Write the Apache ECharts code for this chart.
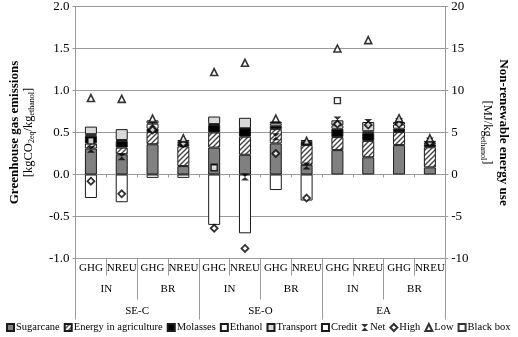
<!DOCTYPE html>
<html>
<head>
<meta charset="utf-8">
<script src="https://cdn.jsdelivr.net/npm/echarts@6/dist/echarts.min.js"></script>
<style>
  html, body { margin: 0; padding: 0; background: #fff; }
  #chart { width: 518px; height: 337px; }
</style>
</head>
<body>
<div id="chart"></div>
<script>
// category rows (bottom axis, three levels)
const indicators = ["GHG", "NREU", "GHG", "NREU", "GHG", "NREU", "GHG", "NREU", "GHG", "NREU", "GHG", "NREU"];
const origins = ["IN", "BR", "IN", "BR", "IN", "BR"];
const regions = ["SE-C", "SE-O", "EA"];

// GHG columns in kgCO2eq/kg ethanol, NREU columns in MJ/kg ethanol
const sugarcane = [0.31, 2.4, 0.36, 1.0, 0.32, 2.35, 0.37, 1.15, 0.29, 2.05, 0.35, 0.85];
const energyAgri = [0.06, 0.8, 0.145, 2.35, 0.18, 2.15, 0.17, 2.35, 0.155, 1.95, 0.155, 2.4];
const molasses = [0.09, 0.8, 0.04, 0.3, 0.09, 1.0, 0.04, 0.25, 0.1, 0.95, 0.04, 0.35];
const ethanol = [0.02, 0.1, 0.06, 0.25, 0.01, 0.0, 0.03, 0.2, 0.04, 0.2, 0.05, 0.2];
const transport = [0.09, 1.3, 0.04, 0.2, 0.09, 1.25, 0.02, 0.15, 0.06, 1.1, 0.03, 0.2];
const credit = [-0.28, -3.3, -0.04, -0.4, -0.6, -7.0, -0.185, -3.1, null, null, null, null];

const net = [0.3, 2.1, 0.6, 3.7, 0.09, -0.3, 0.45, 1.0, 0.65, 6.2, 0.63, 4.0];
const high = [-0.08, -2.3, 0.53, 3.7, -0.64, -8.8, 0.25, -2.8, 0.6, 5.9, 0.6, 3.8];
const low = [0.91, 9.0, 0.665, 4.3, 1.22, 13.3, 0.665, 4.0, 1.5, 16.0, 0.67, 4.3];
const blackBox = [0.4, null, null, null, 0.08, null, null, null, 0.88, null, null, null];

const font = "Liberation Serif";
const gridGray = "#9a9a9a";

// diagonal hatch for "Energy in agriculture"
const hatch = document.createElement("canvas");
hatch.width = 5;
hatch.height = 5;
const hc = hatch.getContext("2d");
hc.fillStyle = "#fff";
hc.fillRect(0, 0, 5, 5);
hc.strokeStyle = "#444";
hc.lineWidth = 1.4;
hc.beginPath();
hc.moveTo(-1, 6); hc.lineTo(6, -1);
hc.moveTo(-1, 1); hc.lineTo(1, -1);
hc.moveTo(4, 6); hc.lineTo(6, 4);
hc.stroke();

// even columns are GHG (left axis), odd ones NREU (right axis)
function pick(values, side) {
  return values.map((v, i) => (i % 2 === side && v != null ? v : "-"));
}

function bars(name, values, color) {
  return [0, 1].map((side) => ({
    name: name,
    type: "bar",
    stack: side === 0 ? "ghg" : "nreu",
    yAxisIndex: side,
    barWidth: 12,
    barGap: "-100%",
    data: pick(values, side),
    itemStyle: { color: color, borderColor: "#1a1a1a", borderWidth: 1 },
  }));
}

function marks(name, values, symbol, size, color, border) {
  return [0, 1].map((side) => ({
    name: name,
    type: "scatter",
    yAxisIndex: side,
    symbol: symbol,
    symbolSize: size,
    data: pick(values, side),
    itemStyle: { color: color, borderColor: "#000", borderWidth: border },
    z: 5,
  }));
}

const series = [].concat(
  bars("Sugarcane", sugarcane, "#808080"),
  bars("Energy in agriculture", energyAgri, { image: hatch, repeat: "repeat" }),
  bars("Molasses", molasses, "#000"),
  bars("Ethanol", ethanol, "#fff"),
  bars("Transport", transport, "#d9d9d9"),
  bars("Credit", credit, "#fff"),
  marks("Net", net, "path://M0,0L10,0L0,10L10,10Z", [8, 7], "#000", 0),
  marks("High", high, "diamond", 7, "#fff", 1.8),
  marks("Low", low, "triangle", 7, "#fff", 1.6),
  marks("Black box", blackBox, "rect", 6, "#fff", 1.4)
);

const barNames = ["Sugarcane", "Energy in agriculture", "Molasses", "Ethanol", "Transport", "Credit"];
const markNames = ["Net", "High", "Low", "Black box"];

function catAxis(data, tickLen, margin) {
  return {
    type: "category",
    position: "bottom",
    data: data,
    axisLine: { onZero: false, show: false },
    axisTick: { show: true, length: tickLen, alignWithLabel: false, interval: 0, lineStyle: { color: gridGray } },
    axisLabel: { margin: margin, interval: 0, color: "#000", fontFamily: font, fontSize: 11 },
    splitLine: { show: false },
  };
}

const chart = echarts.init(document.getElementById("chart"), null, { renderer: "canvas" });

chart.setOption({
  animation: false,
  backgroundColor: "#fff",
  grid: { left: 65, right: 54, top: 3.5, bottom: 78.5 },
  legend: {
    bottom: 4,
    left: 6,
    width: 512,
    itemWidth: 7,
    itemHeight: 7,
    itemGap: 4,
    padding: 0,
    textStyle: { fontFamily: font, fontSize: 10.5, color: "#000", padding: [0, 0, 0, -3] },
    data: barNames.map((n) => ({ name: n, icon: "rect" })).concat(markNames),
  },
  xAxis: [
    catAxis(indicators, 17, 4),
    catAxis(origins, 41, 25),
    catAxis(regions, 61, 47),
    {
      type: "category",
      position: "bottom",
      data: indicators,
      axisLine: { onZero: true, onZeroAxisIndex: 0, show: true, lineStyle: { color: gridGray } },
      axisTick: { show: true, length: 3, interval: 0, lineStyle: { color: gridGray } },
      axisLabel: { show: false },
    },
  ],
  yAxis: [
    {
      type: "value",
      min: -1,
      max: 2,
      interval: 0.5,
      position: "left",
      name: "{b|Greenhouse gas emissions}\n{n|[kgCO}{s|2eq}{n|/kg}{s|ethanol}{n|]}",
      nameLocation: "middle",
      nameRotate: 90,
      nameGap: 40,
      nameTextStyle: {
        color: "#000",
        fontFamily: font,
        rich: {
          b: { fontFamily: font, fontSize: 13, fontWeight: "bold", lineHeight: 14, color: "#000" },
          n: { fontFamily: font, fontSize: 12.5, lineHeight: 14, color: "#000" },
          s: { fontFamily: font, fontSize: 8, lineHeight: 14, verticalAlign: "bottom", color: "#000" },
        },
      },
      axisLine: { show: true, lineStyle: { color: gridGray } },
      axisTick: { show: true, length: 3, lineStyle: { color: gridGray } },
      axisLabel: { color: "#000", fontFamily: font, fontSize: 13, margin: 6, formatter: (v) => v.toFixed(1) },
      splitLine: { show: true, lineStyle: { color: gridGray, width: 1 } },
    },
    {
      type: "value",
      min: -10,
      max: 20,
      interval: 5,
      position: "right",
      name: "{b|Non-renewable energy use}\n{n|[MJ/kg}{s|ethanol}{n|]}",
      nameLocation: "middle",
      nameRotate: -90,
      nameGap: 26,
      nameTextStyle: {
        color: "#000",
        fontFamily: font,
        rich: {
          b: { fontFamily: font, fontSize: 13, fontWeight: "bold", lineHeight: 16, color: "#000" },
          n: { fontFamily: font, fontSize: 12.5, lineHeight: 16, color: "#000" },
          s: { fontFamily: font, fontSize: 8, lineHeight: 16, verticalAlign: "bottom", color: "#000" },
        },
      },
      axisLine: { show: true, lineStyle: { color: gridGray } },
      axisTick: { show: true, length: 3, lineStyle: { color: gridGray } },
      axisLabel: { color: "#000", fontFamily: font, fontSize: 13, margin: 6 },
      splitLine: { show: false },
    },
  ],
  series: series,
});
</script>
</body>
</html>
